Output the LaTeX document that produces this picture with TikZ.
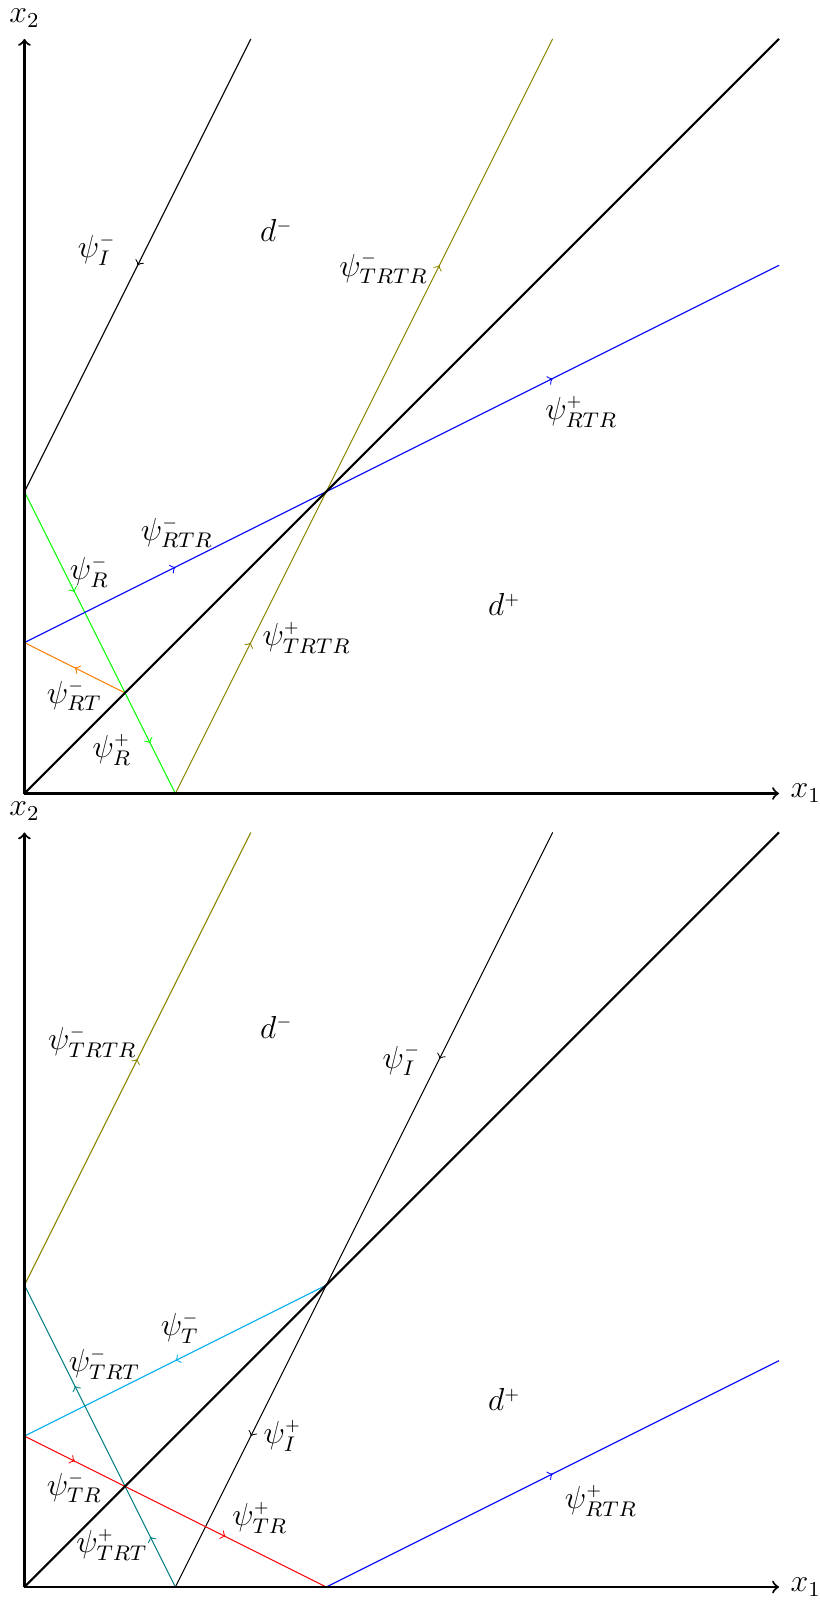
\documentclass[tikz,border=0pt,12pt]{standalone}
\usetikzlibrary{decorations.markings}
\newcommand{\mm}{{\scriptscriptstyle -}}
\newcommand{\pp}{{\scriptscriptstyle +}}
\begin{document}
\begin{tikzpicture}[x=2cm,y=2cm,
  axis/.style={thick,->},
  bound/.style={thick},
  ray/.style={postaction={decorate},decoration={markings,mark=at position 0.5 with {\arrow{>}}}},
  lbl/.style={inner sep=0pt}]
\useasboundingbox (-0.162,-0.086) rectangle (5.27,10.516);
% ---------------- top panel ----------------
\begin{scope}[shift={(0,5.258)}]
  \coordinate (tO) at (0,0);
  \coordinate (tX) at (5,0);
  \coordinate (tY) at (0,5);
  \coordinate (tD) at (5,5);
  \coordinate (tA) at (0,2);
  \coordinate (tB) at (0,1);
  \coordinate (tC) at (2/3,2/3);
  \coordinate (tF) at (1,0);
  \coordinate (tE) at (2,2);
  \coordinate (tI) at (1.5,5);
  \coordinate (tG) at (3.5,5);
  \coordinate (tH) at (5,3.5);
  \draw[ray] (tI) -- (tA);
  \draw[ray,green] (tA) -- (tC);
  \draw[ray,green] (tC) -- (tF);
  \draw[ray,orange] (tC) -- (tB);
  \draw[ray,blue] (tB) -- (tE);
  \draw[ray,blue] (tE) -- (tH);
  \draw[ray,olive] (tF) -- (tE);
  \draw[ray,olive] (tE) -- (tG);
  \draw[bound] (tO) -- (tD);
  \draw[axis] (tO) -- (tX) node[right] (tx1) {$x_1$};
  \draw[axis] (tO) -- (tY) node[above] (tx2) {$x_2$};
  \node[lbl] (tl1) at (0.48,3.60) {$\psi^\mm_I$};
  \node[lbl] (tl2) at (1.67,3.73) {$d^\mm$};
  \node[lbl] (tl3) at (2.38,3.48) {$\psi^\mm_{TRTR}$};
  \node[lbl] (tl4) at (3.69,2.53) {$\psi^\pp_{RTR}$};
  \node[lbl] (tl5) at (1.01,1.73) {$\psi^\mm_{RTR}$};
  \node[lbl] (tl6) at (0.43,1.47) {$\psi^\mm_R$};
  \node[lbl] (tl7) at (3.18,1.25) {$d^\pp$};
  \node[lbl] (tl8) at (1.87,1.03) {$\psi^\pp_{TRTR}$};
  \node[lbl] (tl9) at (0.33,0.65) {$\psi^\mm_{RT}$};
  \node[lbl] (tl10) at (0.58,0.29) {$\psi^\pp_R$};
\end{scope}
% ---------------- bottom panel ----------------
\begin{scope}
  \coordinate (bO) at (0,0);
  \coordinate (bX) at (5,0);
  \coordinate (bY) at (0,5);
  \coordinate (bD) at (5,5);
  \coordinate (bA) at (0,2);
  \coordinate (bB) at (0,1);
  \coordinate (bC) at (2/3,2/3);
  \coordinate (bF) at (1,0);
  \coordinate (bE) at (2,2);
  \coordinate (bI) at (1.5,5);
  \coordinate (bG) at (3.5,5);
  \coordinate (bK) at (2,0);
  \coordinate (bH) at (5,1.5);
  \draw[ray,olive] (bA) -- (bI);
  \draw[ray] (bG) -- (bE);
  \draw[ray] (bE) -- (bF);
  \draw[ray,cyan] (bE) -- (bB);
  \draw[ray,teal] (bF) -- (bC);
  \draw[ray,teal] (bC) -- (bA);
  \draw[ray,red] (bB) -- (bC);
  \draw[ray,red] (bC) -- (bK);
  \draw[ray,blue] (bK) -- (bH);
  \draw[bound] (bO) -- (bD);
  \draw[axis] (bO) -- (bX) node[right] (bx1) {$x_1$};
  \draw[axis] (bO) -- (bY) node[above] (bx2) {$x_2$};
  \node[lbl] (bl1) at (1.67,3.71) {$d^\mm$};
  \node[lbl] (bl2) at (0.45,3.61) {$\psi^\mm_{TRTR}$};
  \node[lbl] (bl3) at (2.50,3.49) {$\psi^\mm_I$};
  \node[lbl] (bl4) at (1.03,1.72) {$\psi^\mm_T$};
  \node[lbl] (bl5) at (0.53,1.48) {$\psi^\mm_{TRT}$};
  \node[lbl] (bl6) at (3.18,1.24) {$d^\pp$};
  \node[lbl] (bl7) at (1.71,1.00) {$\psi^\pp_I$};
  \node[lbl] (bl8) at (0.33,0.66) {$\psi^\mm_{TR}$};
  \node[lbl] (bl9) at (1.56,0.46) {$\psi^\pp_{TR}$};
  \node[lbl] (bl10) at (0.58,0.28) {$\psi^\pp_{TRT}$};
  \node[lbl] (bl11) at (3.82,0.57) {$\psi^\pp_{RTR}$};
\end{scope}
\end{tikzpicture}
\end{document}
